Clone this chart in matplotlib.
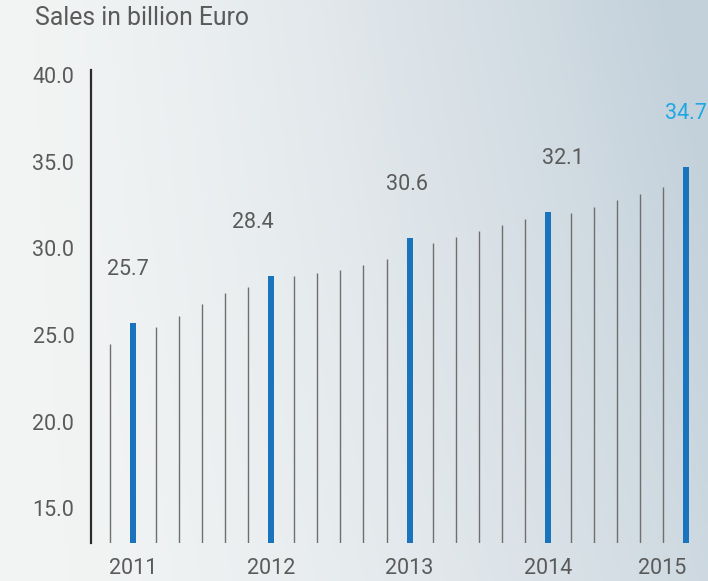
import matplotlib.pyplot as plt
import numpy as np
from matplotlib import font_manager

# Bimonthly sales readings, index 0 = 2011, every 6th point is a year mark.
positions = list(range(-1, 25))
sales = [
    24.48, 25.7, 25.46, 26.12, 26.79, 27.44, 27.75,
    28.4, 28.41, 28.58, 28.75, 29.06, 29.39,
    30.6, 30.33, 30.66, 31.0, 31.35, 31.68,
    32.1, 32.03, 32.39, 32.77, 33.14, 33.52,
    34.7,
]
years = ["2011", "2012", "2013", "2014", "2015"]
year_positions = [0, 6, 12, 18, 24]
year_values = [25.7, 28.4, 30.6, 32.1, 34.7]
y_ticks = [15, 20, 25, 30, 35, 40]

installed = {f.name for f in font_manager.fontManager.ttflist}
base_font = "Roboto" if "Roboto" in installed else "DejaVu Sans"
plt.rcParams["font.family"] = [base_font, "DejaVu Sans"]
plt.rcParams["font.weight"] = "normal"

GREY_TEXT = "#5a5a5a"
LINE_GREY = "#6f6f6f"
BAR_BLUE = "#1a74bd"
HIGHLIGHT = "#1fa7e4"

W, H = 708, 581
fig = plt.figure(figsize=(W / 100, H / 100), dpi=100)

# soft diagonal background: pale on the lower left, blue-grey top right
bg = fig.add_axes([0, 0, 1, 1], zorder=0)
gx, gy = np.meshgrid(np.linspace(0, 1, 300), np.linspace(0, 1, 250))
t = np.clip(0.8 * gx ** 1.6 + 0.3 * (1 - gy) * gx - 0.02, 0, 1)
left = np.array([242, 244, 244]) / 255
right = np.array([195, 209, 219]) / 255
img = left[None, None, :] * (1 - t[..., None]) + right[None, None, :] * t[..., None]
bg.imshow(img, aspect="auto", extent=[0, 1, 0, 1], origin="upper")
bg.axis("off")

ax_left, ax_right = 91 / W, 1.0
ax_bottom, ax_top = 1 - 543 / H, 1 - 70 / H
ax = fig.add_axes([ax_left, ax_bottom, ax_right - ax_left, ax_top - ax_bottom], zorder=1)
ax.patch.set_alpha(0)

ymin = 13.0
thin_x = [p for p in positions if p not in year_positions]
thin_y = [v for p, v in zip(positions, sales) if p not in year_positions]
ax.vlines(thin_x, ymin, thin_y, color=LINE_GREY, linewidth=1.0)
ax.bar(year_positions, year_values, width=0.26, bottom=0, color=BAR_BLUE, zorder=3)

label_dx = [-4, -13, -2, 11, 0]
for i, (x, v) in enumerate(zip(year_positions, year_values)):
    ax.annotate(
        f"{v:.1f}", (x, v), xytext=(label_dx[i], 31), textcoords="offset points",
        ha="center", va="bottom", fontsize=15.5,
        color=HIGHLIGHT if i == len(years) - 1 else GREY_TEXT,
        annotation_clip=False,
    )

ax.set_xlim(-1.825, 24.95)
ax.set_ylim(ymin, 40.29)
ax.set_yticks(y_ticks)
ax.set_yticklabels([f"{v:.1f}" for v in y_ticks])
ax.set_xticks(year_positions)
ax.set_xticklabels(years)
ax.tick_params(axis="y", length=0, pad=12, labelsize=15.5, labelcolor=GREY_TEXT)
ax.tick_params(axis="x", length=0, pad=11, labelsize=15.5, labelcolor=GREY_TEXT)
# last year label sits against the right edge
ax.get_xticklabels()[-1].set_horizontalalignment("right")
ax.get_xticklabels()[-1].set_x(24.95)

for side in ("top", "right", "bottom"):
    ax.spines[side].set_visible(False)
ax.spines["left"].set_color("#2b2b2b")
ax.spines["left"].set_linewidth(1.6)

fig.text(35 / W, 1 - 18 / H, "Sales in billion Euro", ha="left", va="center",
         fontsize=17.8, color=GREY_TEXT)

fig.savefig("out.png", dpi=100)
